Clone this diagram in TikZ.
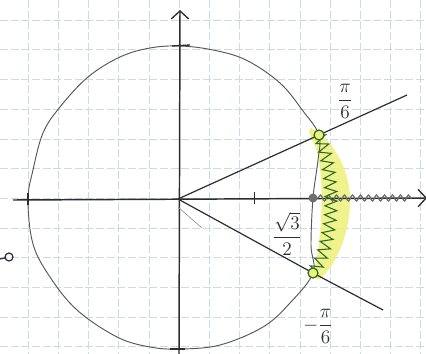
\documentclass[tikz,border=0pt]{standalone}
\usetikzlibrary{arrows.meta,decorations.pathmorphing}
\definecolor{gridc}{RGB}{208,216,230}
\definecolor{pen}{RGB}{45,45,45}
\definecolor{hl}{RGB}{238,240,120}
\definecolor{grn}{RGB}{40,105,40}
\definecolor{gry}{RGB}{110,110,110}
\begin{document}
\begin{tikzpicture}[x=0.75pt,y=-0.75pt,
  gridline/.style={gridc,line width=0.45pt,dash pattern=on 6pt off 2pt},
  axis/.style={pen,line width=1.1pt,-{Straight Barb[length=6pt,width=13pt,line width=1pt]}},
  ray/.style={pen,line width=0.9pt},
  circ/.style={pen!80,line width=0.7pt},
  tick/.style={pen,line width=1pt},
  lbl/.style={pen,font=\Large},
  gpt/.style={circle,draw=grn,line width=0.9pt,fill=hl,inner sep=0pt,minimum size=7.5pt}]
\useasboundingbox (0,0) rectangle (426,354);
\fill[white] (0,0) rectangle (426,354);
% grid
\foreach \k in {-1,...,13} {\draw[gridline] ({28+30.2*\k},0) -- ({28+30.2*\k},354);}
\foreach \k in {0,...,11} {\draw[gridline] (0,{20+29.7*\k}) -- (426,{20+29.7*\k});}
% highlight band
\fill[hl,opacity=0.85] (311,128) .. controls (335,140) and (352,175) .. (350,205)
  .. controls (348,240) and (335,265) .. (320,279)
  .. controls (312,280) and (314,270) .. (316,262)
  .. controls (322,230) and (325,180) .. (316,148)
  .. controls (312,138) and (306,130) .. (311,128) -- cycle;
% key points
\coordinate (O) at (178,199);
\coordinate (P1) at (319,135);
\coordinate (P0) at (313,198);
\coordinate (P2) at (313,273);
\coordinate (A) at (407,95);
\coordinate (B) at (383,310);
\coordinate (xl) at (13,200);
\coordinate (xr) at (427,198);
\coordinate (yb) at (179,354);
\coordinate (yt) at (180,10);
% circle (hand drawn)
\draw[circ] plot[smooth cycle,tension=0.6] coordinates {
  (180,46) (213,50) (246,60) (280,83) (303,111) (319,135) (318,160) (313,198)
  (311,245) (313,273) (290,303) (263,327) (220,345) (180,349) (150,347)
  (117,337) (77,310) (50,277) (33,244) (28,200) (33,170) (43,133) (60,107)
  (88,77) (120,57) (150,48)};
% axes
\draw[axis] (xl) -- (xr);
\draw[axis] (yb) -- (yt);
% ticks
\draw[tick] (172,46) -- (190,45);
\draw[tick] (170,349) -- (185,349);
\draw[tick] (28,193) -- (28,205);
\draw[tick,line width=0.6pt] (254,192) -- (254,204);
% rays
\draw[ray] (O) -- (P1) -- (A);
\draw[ray] (O) -- (P2) -- (B);
\draw[gry!70,line width=0.5pt] (178,207) -- (202,228);
% wave along x-axis
\draw[gry,line width=1pt,decorate,decoration={snake,segment length=6pt,amplitude=2.2pt}] (318,198) -- (412,198);
% green zigzag
\draw[grn,line width=0.8pt,decorate,decoration={zigzag,segment length=7pt,amplitude=4.5pt}]
  (P1) .. controls (334,170) and (338,235) .. (P2);
% points
\fill[gry] (P0) circle (4.5);
\node[gpt] (p1) at (P1) {};
\node[gpt] (p2) at (P2) {};
% labels
\node[lbl] (l1) at (345,101) {$\displaystyle\frac{\pi}{6}$};
\node[lbl] (l2) at (287,234) {$\displaystyle\frac{\sqrt{3}}{2}$};
\node[lbl] (l3) at (318,326) {$\displaystyle-\frac{\pi}{6}$};
% stray mark at left
\draw[pen,line width=0.9pt] (9,257) circle (4);
\draw[pen,line width=0.9pt] (5,258) -- (0,259);
\end{tikzpicture}
\end{document}
